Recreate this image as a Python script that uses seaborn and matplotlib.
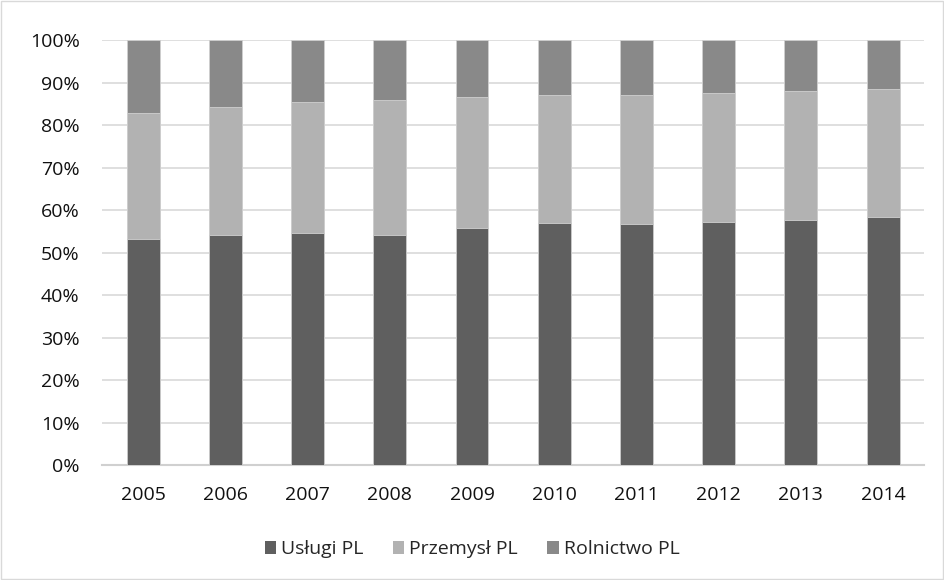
import matplotlib
matplotlib.use("Agg")
import matplotlib.pyplot as plt
import seaborn as sns
import pandas as pd
import numpy as np
from matplotlib.patches import Patch, Rectangle
from matplotlib.ticker import PercentFormatter

years = ["2005", "2006", "2007", "2008", "2009", "2010", "2011", "2012", "2013", "2014"]
uslugi = [53.2, 54.1, 54.5, 54.1, 55.8, 56.9, 56.7, 57.2, 57.6, 58.3]
przemysl = [29.6, 30.1, 30.9, 31.9, 30.9, 30.2, 30.4, 30.3, 30.4, 30.2]
rolnictwo = [17.2, 15.8, 14.6, 14.0, 13.3, 12.9, 12.9, 12.5, 12.0, 11.5]
series_names = ["Usługi PL", "Przemysł PL", "Rolnictwo PL"]
colors = ["#5f5f5f", "#b2b2b2", "#898989"]

sns.set_theme(style="white")
plt.rcParams["font.family"] = ["Open Sans", "DejaVu Sans"]

df = pd.DataFrame({"year": years, "u": uslugi, "p": przemysl, "r": rolnictwo})
tot = df[["u", "p", "r"]].sum(axis=1)
df["c1"] = df["u"] / tot * 100
df["c2"] = (df["u"] + df["p"]) / tot * 100
df["c3"] = 100.0

fig = plt.figure(figsize=(9.44, 5.80), dpi=100)
ax = fig.add_axes([0.108, 0.198, 0.871, 0.733])

for col, color in zip(["c3", "c2", "c1"], [colors[2], colors[1], colors[0]]):
    sns.barplot(data=df, x="year", y=col, color=color, width=0.4, ax=ax,
                saturation=1, edgecolor="#d0d0d0", linewidth=0.6, zorder=3)

ax.set_ylim(0, 100)
ax.set_xlim(-0.5, len(years) - 0.5)
ax.set_yticks(np.arange(0, 101, 10))
ax.yaxis.set_major_formatter(PercentFormatter(decimals=0))
ax.grid(axis="y", color="#d9d9d9", linewidth=1.2, zorder=0)
ax.set_axisbelow(True)
for s in ax.spines.values():
    s.set_visible(False)
ax.spines["bottom"].set_visible(True)
ax.spines["bottom"].set_color("#d0d0d0")
ax.spines["bottom"].set_linewidth(1.5)
ax.set_xlabel("")
ax.set_ylabel("")
ax.tick_params(axis="both", length=0, labelsize=14, colors="#111111")
ax.tick_params(axis="y", pad=16)
ax.tick_params(axis="x", pad=15)

handles = [Patch(facecolor=c, edgecolor="none") for c in colors]
fig.legend(handles, series_names, loc="center", bbox_to_anchor=(0.5, 0.053), ncol=3,
           frameon=False, fontsize=14, handlelength=0.6, handleheight=0.6,
           handletextpad=0.25, columnspacing=1.5)

fig.patches.append(Rectangle((0.001, 0.001), 0.998, 0.998, transform=fig.transFigure,
                             fill=False, edgecolor="#d9d9d9", linewidth=1))

fig.savefig("out.png", dpi=100)
